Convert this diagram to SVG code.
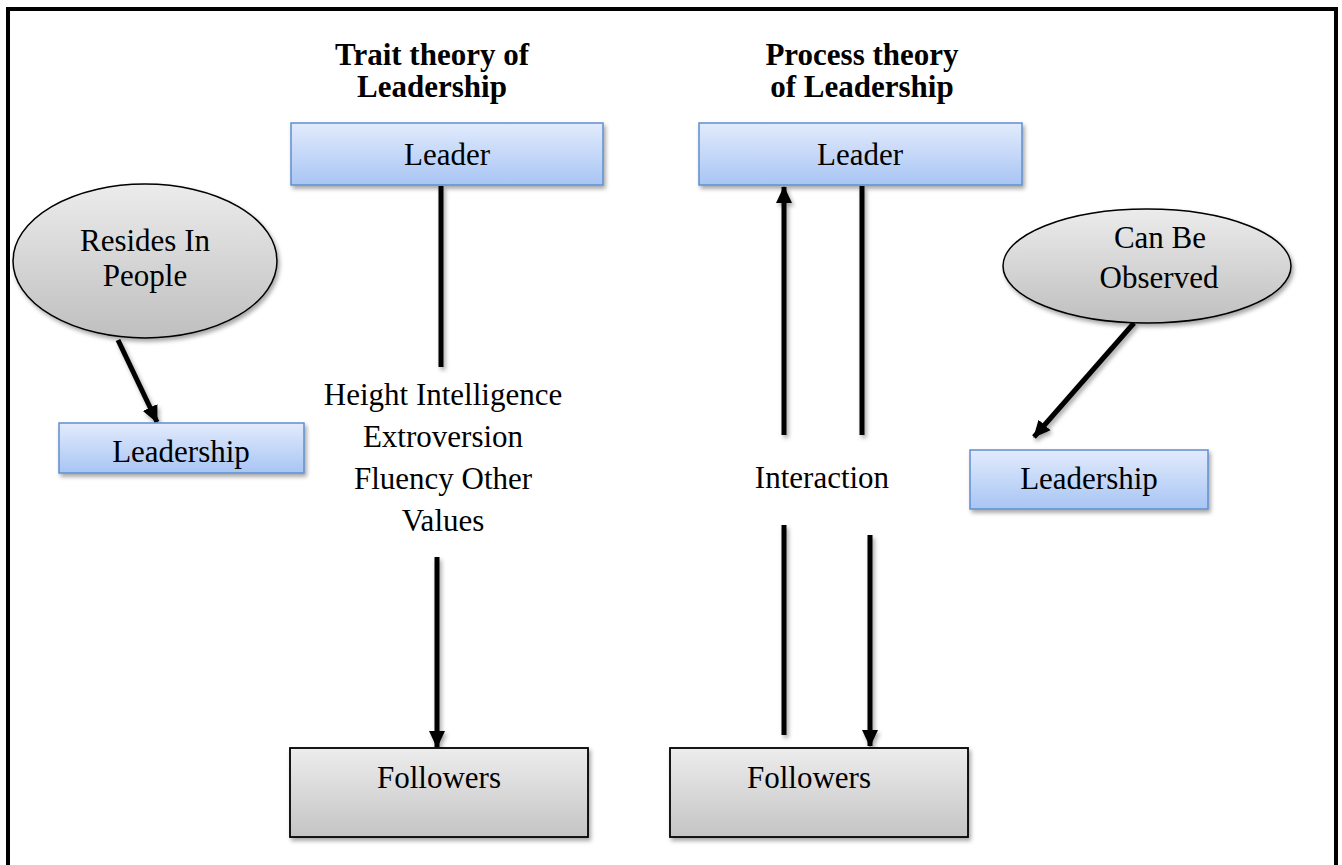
<svg xmlns="http://www.w3.org/2000/svg" width="1342" height="865" viewBox="0 0 1342 865">
  <defs>
    <linearGradient id="blueFill" x1="0" y1="0" x2="0" y2="1">
      <stop offset="0" stop-color="#e2ebfc"/>
      <stop offset="1" stop-color="#a8c5f4"/>
    </linearGradient>
    <linearGradient id="greyFill" x1="0" y1="0" x2="0" y2="1">
      <stop offset="0" stop-color="#ededed"/>
      <stop offset="1" stop-color="#c4c4c4"/>
    </linearGradient>
    <linearGradient id="ovalFill" x1="0" y1="0" x2="0" y2="1">
      <stop offset="0" stop-color="#ececec"/>
      <stop offset="1" stop-color="#bfbfbf"/>
    </linearGradient>
    <filter id="shadow" x="-10%" y="-10%" width="130%" height="140%">
      <feDropShadow dx="2" dy="3" stdDeviation="2" flood-color="#000" flood-opacity="0.35"/>
    </filter>
    <marker id="arrow" markerUnits="userSpaceOnUse" markerWidth="18" markerHeight="18" viewBox="0 0 18 18" refX="16" refY="9" orient="auto">
      <path d="M0,1 L17,9 L0,17 Z" fill="#000"/>
    </marker>
    <style>
      .blue { fill: url(#blueFill); stroke: #5f8fcf; stroke-width: 1.5; }
      .grey { fill: url(#greyFill); stroke: #000; stroke-width: 1.8; }
      .oval { fill: url(#ovalFill); stroke: #000; stroke-width: 1.5; }
      .lbl { font-family: "Liberation Serif", "Times New Roman", serif; font-size: 31px; fill: #000; text-anchor: middle; }
      .ttl { font-family: "Liberation Serif", "Times New Roman", serif; font-size: 31px; font-weight: bold; fill: #000; text-anchor: middle; }
      .wire { stroke: #000; stroke-width: 5; fill: none; }
    </style>
  </defs>

  <rect width="1342" height="865" fill="#fff"/>
  <!-- outer frame (bottom edge runs past the page) -->
  <rect x="8" y="9" width="1328" height="880" fill="none" stroke="#000" stroke-width="4"/>

  <!-- headings -->
  <g id="title-trait">
    <text class="ttl" x="432" y="65">Trait theory of</text>
    <text class="ttl" x="432" y="97">Leadership</text>
  </g>
  <g id="title-process">
    <text class="ttl" x="862" y="65">Process theory</text>
    <text class="ttl" x="862" y="97">of Leadership</text>
  </g>

  <!-- connectors -->
  <g id="connectors" filter="url(#shadow)">
    <line class="wire" x1="441" y1="186" x2="441" y2="367"/>
    <line class="wire" x1="437" y1="557" x2="437" y2="747" marker-end="url(#arrow)"/>
    <line class="wire" x1="784" y1="435" x2="784" y2="187" marker-end="url(#arrow)"/>
    <line class="wire" x1="862" y1="186" x2="862" y2="435"/>
    <line class="wire" x1="784" y1="525" x2="784" y2="735"/>
    <line class="wire" x1="870" y1="535" x2="870" y2="746" marker-end="url(#arrow)"/>
    <line class="wire" x1="118" y1="340" x2="157" y2="422" marker-end="url(#arrow)"/>
    <line class="wire" x1="1134" y1="323" x2="1034" y2="437" marker-end="url(#arrow)"/>
  </g>

  <!-- trait theory column -->
  <g id="leader-trait">
    <rect class="blue" x="291" y="123" width="312" height="62" filter="url(#shadow)"/>
    <text class="lbl" x="447" y="165">Leader</text>
  </g>
  <g id="traits">
    <text class="lbl" x="443" y="405">Height Intelligence</text>
    <text class="lbl" x="443" y="447">Extroversion</text>
    <text class="lbl" x="443" y="489">Fluency Other</text>
    <text class="lbl" x="443" y="531">Values</text>
  </g>
  <g id="followers-trait">
    <rect class="grey" x="290" y="748" width="298" height="89" filter="url(#shadow)"/>
    <text class="lbl" x="439" y="788">Followers</text>
  </g>

  <!-- process theory column -->
  <g id="leader-process">
    <rect class="blue" x="699" y="123" width="323" height="62" filter="url(#shadow)"/>
    <text class="lbl" x="860" y="165">Leader</text>
  </g>
  <g id="interaction">
    <text class="lbl" x="822" y="488">Interaction</text>
  </g>
  <g id="followers-process">
    <rect class="grey" x="670" y="748" width="298" height="89" filter="url(#shadow)"/>
    <text class="lbl" x="809" y="788">Followers</text>
  </g>

  <!-- side notes -->
  <g id="resides-in-people">
    <ellipse class="oval" cx="145" cy="261" rx="132" ry="77" filter="url(#shadow)"/>
    <text class="lbl" x="145" y="251">Resides In</text>
    <text class="lbl" x="145" y="286">People</text>
  </g>
  <g id="leadership-left">
    <rect class="blue" x="59" y="423" width="245" height="50" filter="url(#shadow)"/>
    <text class="lbl" x="181" y="462">Leadership</text>
  </g>
  <g id="can-be-observed">
    <ellipse class="oval" cx="1147" cy="266" rx="144" ry="57" filter="url(#shadow)"/>
    <text class="lbl" x="1160" y="248">Can Be</text>
    <text class="lbl" x="1159" y="288">Observed</text>
  </g>
  <g id="leadership-right">
    <rect class="blue" x="970" y="450" width="238" height="59" filter="url(#shadow)"/>
    <text class="lbl" x="1089" y="489">Leadership</text>
  </g>
</svg>
